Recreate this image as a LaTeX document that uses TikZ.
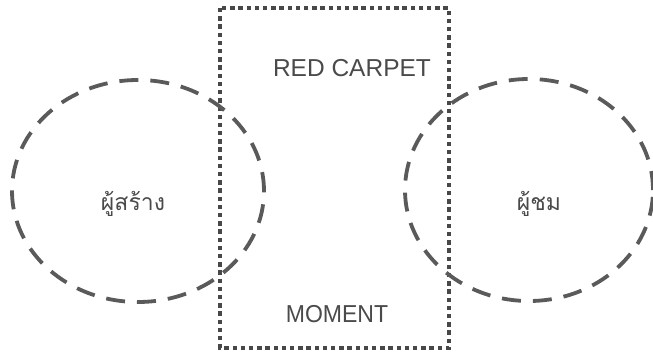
\documentclass[tikz,border=0pt]{standalone}
\usepackage{fontspec}
\setmainfont{Liberation Sans}
\newfontfamily\thaifont[Script=Thai]{Loma}
\definecolor{linegray}{HTML}{5A5A5A}
\definecolor{boxgray}{HTML}{484848}
\definecolor{textgray}{HTML}{4A4A4A}
\begin{document}
\begin{tikzpicture}[x=1pt,y=1pt,
  circ/.style={draw=linegray, line width=3.8pt, dash pattern=on 19pt off 12pt},
  boxline/.style={draw=boxgray, line width=4.6pt, dash pattern=on 4.4pt off 3.8pt},
  lbl/.style={text=textgray, font=\fontsize{24.5}{27}\selectfont, inner sep=0pt},
  thlbl/.style={text=textgray, font=\thaifont\fontsize{23}{26}\selectfont, inner sep=0pt}]
\useasboundingbox (0,0) rectangle (653,354);
\draw[boxline] (220,346) rectangle (449,6);
\draw[circ] (138,163) ellipse [x radius=126, y radius=111];
\draw[circ] (529,164) ellipse [x radius=124, y radius=111];
\node[lbl] (red) at (352,286) {RED CARPET};
\node[lbl, xscale=0.94] (moment) at (337,40) {MOMENT};
\node[thlbl] (creator) at (133,150) {ผู้สร้าง};
\node[thlbl] (audience) at (539,150) {ผู้ชม};
\end{tikzpicture}
\end{document}
